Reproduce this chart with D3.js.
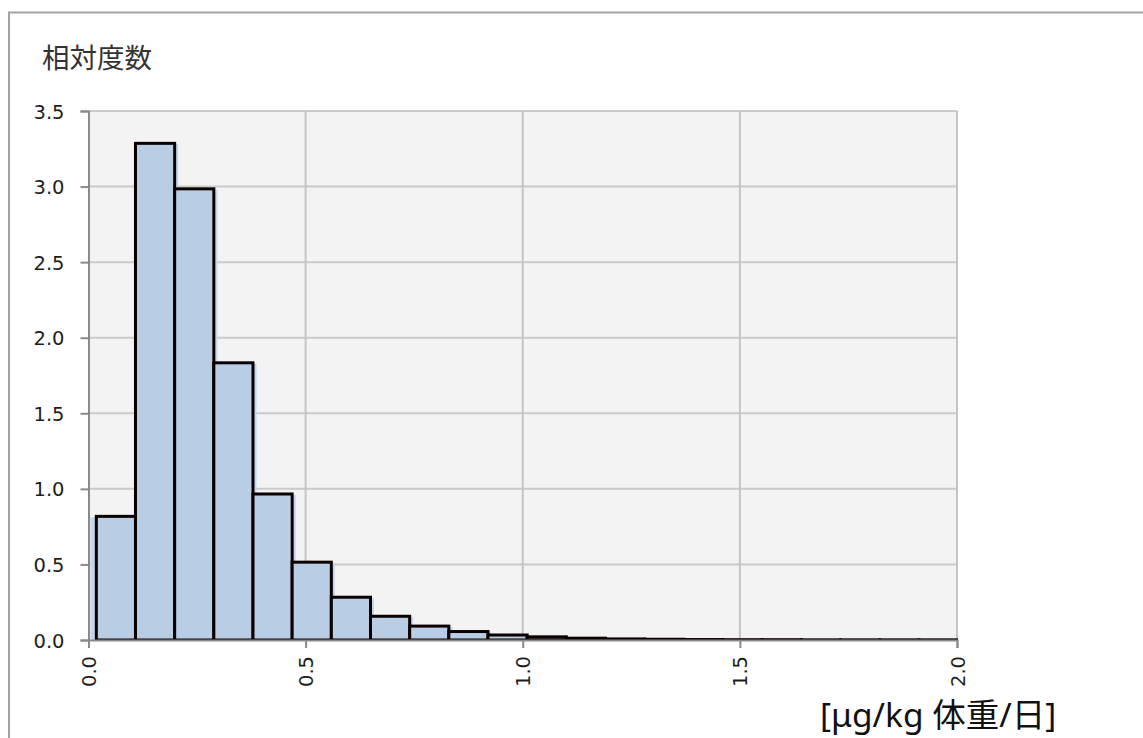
<!DOCTYPE html>
<html lang="ja">
<head>
<meta charset="utf-8">
<script src="https://cdn.jsdelivr.net/npm/d3@7"></script>
<style>
  html, body { margin: 0; padding: 0; background: #fff; }
  svg { display: block; font-family: "Noto Sans", "Noto Sans CJK JP", sans-serif; }
</style>
</head>
<body>
<svg id="chart" width="1143" height="738"></svg>
<script>
// Histogram of estimated daily intake (relative frequency)
const yTitle = "相対度数";
const xUnit = "[μg/kg 体重/日]";
const binStart = 0.018;
const binWidth = 0.0902;
const relFreq = [0.818, 3.286, 2.985, 1.834, 0.966, 0.515, 0.283, 0.157, 0.092, 0.056,
                 0.033, 0.021, 0.012, 0.007, 0.005, 0.003, 0.002, 0.002, 0.001, 0.001,
                 0.001, 0.001];
const xTicks = [0, 0.5, 1.0, 1.5, 2.0];
const yTicks = [0, 0.5, 1.0, 1.5, 2.0, 2.5, 3.0, 3.5];

const svg = d3.select("#chart");
const W = 1143, H = 738;
const plot = { left: 88.5, right: 957, top: 111, bottom: 640 };

const x = d3.scaleLinear().domain([0, 2]).range([plot.left, plot.right]);
const y = d3.scaleLinear().domain([0, 3.5]).range([plot.bottom, plot.top]);

const bins = relFreq.map((v, i) => ({
  x0: binStart + i * binWidth,
  x1: binStart + (i + 1) * binWidth,
  v
}));

// outer chart frame
svg.append("path")
  .attr("d", `M9,${H} V12.5 H${W}`)
  .attr("fill", "none").attr("stroke", "#a3a3a3").attr("stroke-width", 2);

// plot background
svg.append("rect")
  .attr("x", plot.left).attr("y", plot.top)
  .attr("width", plot.right - plot.left).attr("height", plot.bottom - plot.top)
  .attr("fill", "#f3f3f3");

// gridlines
svg.append("g").selectAll("line").data(yTicks.filter(d => d > 0)).join("line")
  .attr("x1", plot.left).attr("x2", plot.right)
  .attr("y1", d => y(d)).attr("y2", d => y(d))
  .attr("stroke", "#cacaca").attr("stroke-width", 2);
svg.append("g").selectAll("line").data(xTicks.filter(d => d > 0)).join("line")
  .attr("y1", plot.top).attr("y2", plot.bottom)
  .attr("x1", d => x(d)).attr("x2", d => x(d))
  .attr("stroke", "#c4c4c4").attr("stroke-width", 2);

svg.append("clipPath").attr("id", "plotClip").append("rect")
  .attr("x", plot.left).attr("y", plot.top - 5)
  .attr("width", plot.right - plot.left + 1).attr("height", plot.bottom - plot.top + 5);

const marks = svg.append("g").attr("clip-path", "url(#plotClip)");

// soft offset fill behind the bars
const shadowPts = [[x(0) + 2, y(0)]];
bins.forEach((b, i) => {
  const left = i === 0 ? x(0) + 2 : x(b.x0) + 3.5;
  shadowPts.push([left, y(b.v) + 1]);
  shadowPts.push([x(b.x1) + 3.5, y(b.v) + 1]);
});
shadowPts.push([x(bins[bins.length - 1].x1) + 3.5, y(0)]);
marks.append("path")
  .attr("d", d3.line()(shadowPts) + "Z")
  .attr("fill", "#c3d6ee");

// bars
marks.selectAll("rect.bar").data(bins).join("rect")
  .attr("class", "bar")
  .attr("x", d => x(d.x0))
  .attr("y", d => y(d.v))
  .attr("width", d => x(d.x1) - x(d.x0))
  .attr("height", d => y(0) - y(d.v))
  .attr("fill", "#b9cde5")
  .attr("stroke", "#0a0000")
  .attr("stroke-width", 3);

// axes
const axisColor = "#8a8a8a";
const yAxis = svg.append("g")
  .attr("transform", `translate(${plot.left},0)`)
  .call(d3.axisLeft(y).tickValues(yTicks).tickFormat(d3.format(".1f")).tickSize(8).tickPadding(16));
const xAxis = svg.append("g")
  .attr("transform", `translate(0,${plot.bottom})`)
  .call(d3.axisBottom(x).tickValues(xTicks).tickFormat(d3.format(".1f")).tickSize(8).tickPadding(8));

[yAxis, xAxis].forEach(g => {
  g.attr("font-size", null).attr("font-family", null);
  g.select(".domain").attr("stroke", axisColor).attr("stroke-width", 2);
  g.selectAll(".tick line").attr("stroke", axisColor).attr("stroke-width", 2);
  g.selectAll(".tick text")
    .attr("fill", "#1e1e1e")
    .style("font-size", "19.5px")
    .style("font-family", "'DejaVu Sans', sans-serif");
});
yAxis.selectAll(".tick text").attr("dy", "0.36em");
xAxis.selectAll(".tick text")
  .attr("text-anchor", "end")
  .attr("transform", "rotate(-90)")
  .attr("x", -16)
  .attr("y", 0)
  .attr("dy", "0.36em");

// titles
svg.append("text")
  .attr("x", 42).attr("y", 68)
  .attr("fill", "#333")
  .style("font-size", "27.5px")
  .style("font-family", "'Noto Sans CJK JP', sans-serif")
  .text(yTitle);

svg.append("text")
  .attr("x", 820).attr("y", 727)
  .attr("fill", "#111")
  .style("font-size", "33.5px")
  .style("font-family", "'Noto Sans', 'Noto Sans CJK JP', sans-serif")
  .text(xUnit);
</script>
</body>
</html>
